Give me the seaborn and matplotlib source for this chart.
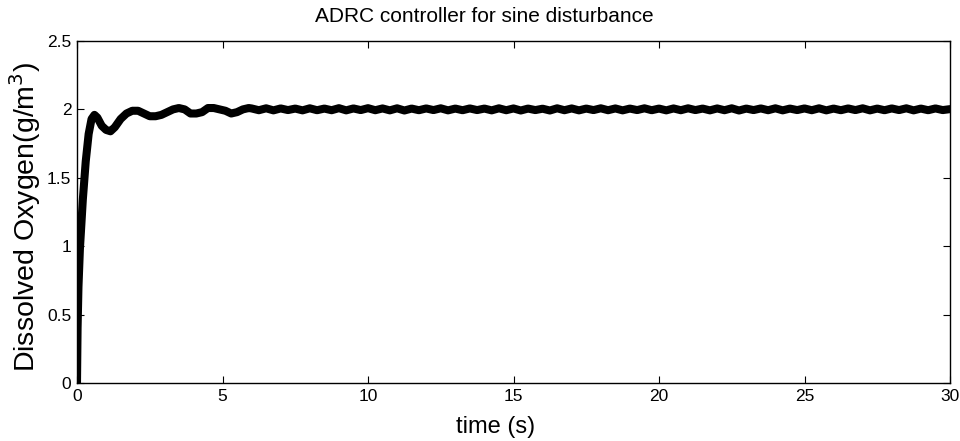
import matplotlib
matplotlib.use("Agg")
import matplotlib.pyplot as plt
import seaborn as sns
import pandas as pd

# ---- data ----
t_transient = [0.0, 0.02, 0.05, 0.1, 0.2, 0.3, 0.4, 0.5, 0.6, 0.7, 0.85, 1.0, 1.15,
               1.3, 1.5, 1.7, 1.9, 2.1, 2.3, 2.5, 2.7, 2.9, 3.1, 3.3, 3.5, 3.7,
               3.9, 4.1, 4.3, 4.5, 4.7, 4.9, 5.1, 5.3, 5.5, 5.7, 5.9]
y_transient = [0.0, 0.40, 0.70, 0.98, 1.34, 1.62, 1.82, 1.93, 1.96, 1.94, 1.88, 1.85, 1.84,
               1.87, 1.93, 1.97, 1.99, 1.99, 1.97, 1.95, 1.95, 1.96, 1.98, 2.00, 2.01, 2.00,
               1.97, 1.97, 1.98, 2.01, 2.01, 2.00, 1.99, 1.97, 1.98, 2.00, 2.01]

t_steady = [6.0, 6.25, 6.5, 6.75, 7.0, 7.25, 7.5, 7.75, 8.0, 8.25, 8.5, 8.75, 9.0, 9.25,
            9.5, 9.75, 10.0, 10.25, 10.5, 10.75, 11.0, 11.25, 11.5, 11.75, 12.0, 12.25,
            12.5, 12.75, 13.0, 13.25, 13.5, 13.75, 14.0, 14.25, 14.5, 14.75, 15.0, 15.25,
            15.5, 15.75, 16.0, 16.25, 16.5, 16.75, 17.0, 17.25, 17.5, 17.75, 18.0, 18.25,
            18.5, 18.75, 19.0, 19.25, 19.5, 19.75, 20.0, 20.25, 20.5, 20.75, 21.0, 21.25,
            21.5, 21.75, 22.0, 22.25, 22.5, 22.75, 23.0, 23.25, 23.5, 23.75, 24.0, 24.25,
            24.5, 24.75, 25.0, 25.25, 25.5, 25.75, 26.0, 26.25, 26.5, 26.75, 27.0, 27.25,
            27.5, 27.75, 28.0, 28.25, 28.5, 28.75, 29.0, 29.25, 29.5, 29.75, 30.0]
y_steady = [2.007, 1.994, 2.008, 1.993, 2.007, 1.995, 2.006, 1.993, 2.008, 1.994, 2.006, 1.994,
            2.009, 1.993, 2.007, 1.995, 2.009, 1.994, 2.007, 1.993, 2.008, 1.992, 2.006, 1.994,
            2.007, 1.995, 2.008, 1.993, 2.006, 1.994, 2.007, 1.995, 2.006, 1.993, 2.008, 1.994,
            2.007, 1.992, 2.006, 1.995, 2.005, 1.992, 2.008, 1.994, 2.007, 1.993, 2.006, 1.995,
            2.008, 1.994, 2.007, 1.993, 2.006, 1.995, 2.008, 1.994, 2.006, 1.993, 2.007, 1.994,
            2.008, 1.995, 2.006, 1.993, 2.007, 1.994, 2.008, 1.992, 2.006, 1.995, 2.007, 1.994,
            2.008, 1.993, 2.006, 1.995, 2.007, 1.994, 2.008, 1.993, 2.006, 1.994, 2.007, 1.995,
            2.008, 1.993, 2.006, 1.994, 2.007, 1.995, 2.008, 1.993, 2.006, 1.994, 2.007, 1.995,
            2.002]

x_ticks = [0, 5, 10, 15, 20, 25, 30]
y_ticks = [0, 0.5, 1, 1.5, 2, 2.5]
y_tick_labels = ["0", "0.5", "1", "1.5", "2", "2.5"]

df = pd.DataFrame({"time": t_transient + t_steady, "DO": y_transient + y_steady})

sns.set_theme(style="white")
plt.rcParams["font.family"] = ["Liberation Sans", "DejaVu Sans"]
plt.rcParams["text.color"] = "black"
plt.rcParams["axes.labelcolor"] = "black"

fig = plt.figure(figsize=(9.6, 4.41), dpi=100)
ax = fig.add_axes([77 / 960, 1 - 383 / 441, 873 / 960, 342 / 441])

sns.lineplot(data=df, x="time", y="DO", ax=ax, color="black", linewidth=5.8,
             estimator=None, sort=False, solid_joinstyle="round", solid_capstyle="round")

ax.set_xlim(0, 30)
ax.set_ylim(0, 2.5)
ax.set_xticks(x_ticks)
ax.set_xticklabels([str(v) for v in x_ticks])
ax.set_yticks(y_ticks)
ax.set_yticklabels(y_tick_labels)

for sp in ax.spines.values():
    sp.set_visible(True)
    sp.set_color("black")
    sp.set_linewidth(1.0)

ax.tick_params(axis="both", which="both", direction="in", length=5, width=0.8,
               colors="black", labelcolor="black", labelsize=12.5, top=True, right=True,
               bottom=True, left=True, pad=4)

ax.set_xlabel("time (s)", fontsize=17, color="black")
ax.xaxis.set_label_coords(0.479, -0.13)
ax.xaxis.label.set_va("center")
ax.set_ylabel("Dissolved Oxygen(g/m$^3$)", fontsize=20.5, color="black")
ax.yaxis.set_label_coords(-0.059, 0.485)
ax.yaxis.label.set_va("center")

fig.text(484 / 960, 1 - 16 / 441, "ADRC controller for sine disturbance",
         ha="center", va="center", fontsize=15, color="black")

fig.savefig("out.png", dpi=100)
